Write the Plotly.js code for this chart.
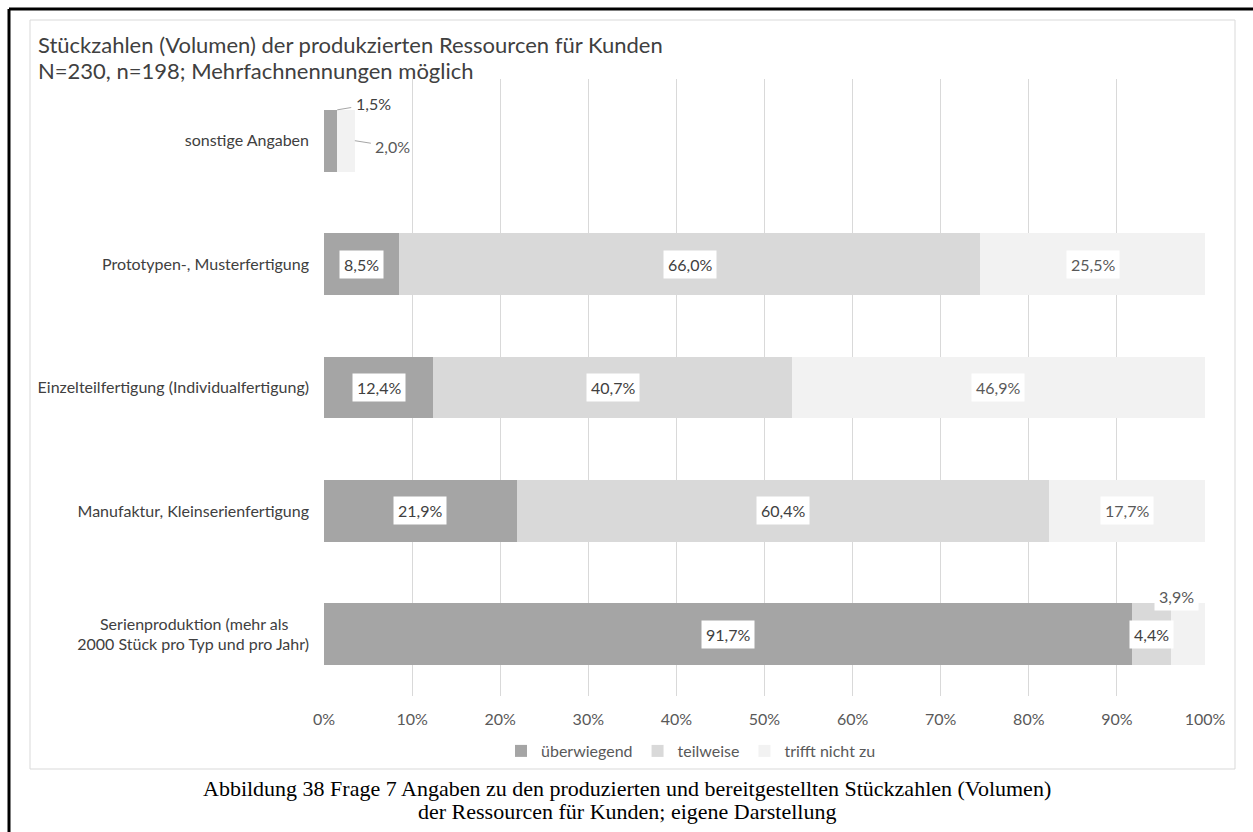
<!DOCTYPE html>
<html>
<head>
<meta charset="utf-8">
<script src="https://cdn.plot.ly/plotly-3.0.1.min.js"></script>
<style>
  html, body { margin: 0; padding: 0; background: #fff; }
  #plotdiv { width: 1253px; height: 832px; }
</style>
</head>
<body>
<div id="plotdiv"></div>
<script>
// categories, top to bottom (trailing no-break spaces centre the first line of the last one)
var categories = [
  'sonstige Angaben',
  'Prototypen-, Musterfertigung',
  'Einzelteilfertigung (Individualfertigung)',
  'Manufaktur, Kleinserienfertigung',
  'Serienproduktion (mehr als\u00A0\u00A0\u00A0\u00A0\u00A0<br>2000 Stück pro Typ und pro Jahr)'
];

var seriesNames = ['überwiegend', 'teilweise', 'trifft nicht zu'];
var ueberwiegend = [1.5, 8.5, 12.4, 21.9, 91.7];
var teilweise = [0, 66.0, 40.7, 60.4, 4.4];
var trifftNichtZu = [2.0, 25.5, 46.9, 17.7, 3.9];

var xTicks = [0, 10, 20, 30, 40, 50, 60, 70, 80, 90, 100];
var xTickLabels = ['0%', '10%', '20%', '30%', '40%', '50%', '60%', '70%', '80%', '90%', '100%'];

var titleLines = [
  'Stückzahlen (Volumen) der produkzierten Ressourcen für Kunden',
  'N=230, n=198; Mehrfachnennungen möglich'
];
var captionLines = [
  'Abbildung 38 Frage 7 Angaben zu den produzierten und bereitgestellten Stückzahlen (Volumen)',
  'der Ressourcen für Kunden; eigene Darstellung'
];

var colors = ['#a5a5a5', '#d9d9d9', '#f2f2f2'];
var labelColors = ['#404040', '#404040', '#595959'];
var font = 'Lato, "Open Sans", sans-serif';

var W = 1253, H = 832;
function px(x) { return x / W; }
function py(y) { return 1 - y / H; }

var allSeries = [ueberwiegend, teilweise, trifftNichtZu];

var data = allSeries.map(function (vals, i) {
  return {
    type: 'bar',
    orientation: 'h',
    name: seriesNames[i],
    x: vals,
    y: categories,
    marker: { color: colors[i], line: { width: 0 } },
    hoverinfo: 'x+y+name'
  };
});

function fmt(v) {
  return v.toFixed(1).replace('.', ',') + '%';
}

// special placement for small segments (category index - series index)
var labelTweaks = {
  '0-0': { arrow: true, yOff: -0.25, atEnd: true, ax: 36, ay: -6 },
  '0-2': { arrow: true, yOff: 0, atEnd: true, ax: 38, ay: 6 },
  '4-2': { yshift: 38, xshift: -11 }
};

var annotations = [];
categories.forEach(function (cat, j) {
  var start = 0;
  allSeries.forEach(function (vals, i) {
    var v = vals[j];
    if (v > 0) {
      var tw = labelTweaks[j + '-' + i] || {};
      var a = {
        x: tw.atEnd ? start + v : start + v / 2,
        y: j + (tw.yOff || 0),
        xref: 'x', yref: 'y',
        text: fmt(v),
        font: { family: font, size: 16, color: labelColors[i] },
        bgcolor: tw.arrow ? 'rgba(0,0,0,0)' : '#ffffff',
        borderpad: 4,
        showarrow: !!tw.arrow,
        xshift: tw.xshift || 0,
        yshift: tw.yshift || 0
      };
      if (tw.arrow) {
        a.ax = tw.ax; a.ay = tw.ay;
        a.arrowhead = 0; a.arrowwidth = 1; a.arrowcolor = '#a6a6a6';
        a.standoff = 0;
      }
      annotations.push(a);
    }
    start += v;
  });
});

// chart title, two lines
titleLines.forEach(function (t, k) {
  annotations.push({
    xref: 'paper', yref: 'paper', x: px(36), y: py(45 + 25 * k),
    xanchor: 'left', yanchor: 'middle', align: 'left', showarrow: false,
    text: t,
    font: { family: font, size: 22, color: '#404040' }
  });
});

// figure caption, two lines
captionLines.forEach(function (t, k) {
  annotations.push({
    xref: 'paper', yref: 'paper', x: px(627), y: py(788 + 23 * k),
    xanchor: 'center', yanchor: 'middle', align: 'center', showarrow: false,
    text: t,
    font: { family: '"Liberation Serif", "Times New Roman", serif', size: 22, color: '#000000' }
  });
});

var layout = {
  width: W, height: H,
  margin: { l: 0, r: 0, t: 0, b: 0 },
  paper_bgcolor: '#ffffff',
  plot_bgcolor: '#ffffff',
  barmode: 'stack',
  bargap: 0.5,
  showlegend: true,
  legend: {
    orientation: 'h', x: px(691), y: py(751), xanchor: 'center', yanchor: 'middle',
    font: { family: font, size: 16, color: '#595959' },
    traceorder: 'normal'
  },
  xaxis: {
    domain: [px(324), px(1205)],
    range: [0, 100],
    tickvals: xTicks, ticktext: xTickLabels,
    showgrid: true, gridcolor: '#d9d9d9', gridwidth: 1,
    zeroline: false, showline: false, ticks: '',
    ticklabelstandoff: 12,
    tickfont: { family: font, size: 16, color: '#595959' },
    fixedrange: true
  },
  yaxis: {
    domain: [py(696), py(79)],
    autorange: 'reversed',
    type: 'category',
    showgrid: false, zeroline: false, showline: false, ticks: '',
    ticklabelstandoff: 14,
    tickfont: { family: font, size: 16, color: '#404040' },
    fixedrange: true
  },
  annotations: annotations,
  shapes: [
    // light frame round the chart
    { type: 'rect', xref: 'paper', yref: 'paper', x0: px(30), x1: px(1235), y0: py(769), y1: py(20),
      line: { color: '#d9d9d9', width: 1 }, fillcolor: 'rgba(0,0,0,0)', layer: 'below' },
    // black page border, left and top
    { type: 'line', xref: 'paper', yref: 'paper', x0: px(9), x1: px(9), y0: 0, y1: py(9),
      line: { color: '#000000', width: 3 } },
    { type: 'line', xref: 'paper', yref: 'paper', x0: px(9), x1: 1, y0: py(9), y1: py(9),
      line: { color: '#000000', width: 3 } }
  ]
};

Plotly.newPlot('plotdiv', data, layout, { displayModeBar: false, staticPlot: true });
</script>
</body>
</html>
